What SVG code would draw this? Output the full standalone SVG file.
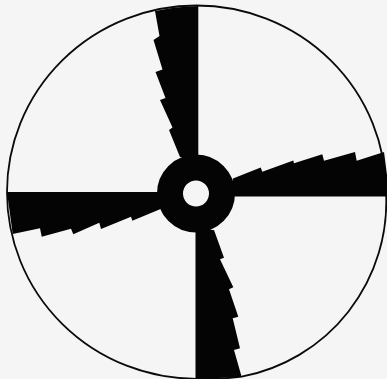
<svg xmlns="http://www.w3.org/2000/svg" width="387" height="379" viewBox="0 0 387 379">
<style>.k{fill:#040404}</style>
<rect width="387" height="379" fill="#f5f5f5"/>
<path d="M386,192 A178,178 0 0 1 241.7,376.7 Q220,379.5 196.5,378.8 A189.5,186.5 0 0 1 7,192 A189.5,186.5 0 0 1 386,192 Z" fill="none" stroke="#0a0a0a" stroke-width="1.8"/>
<polygon class="k" points="155,11 159.5,36 153.5,40 162.5,69.5 155.5,72 165.5,98 160,100 172.5,127.5 169,130 180,157 198.3,157 198.3,6 175,7.5"/>
<polygon class="k" points="233,178.5 260.7,167.5 262.3,171.7 293.3,160.5 294,163.3 322.3,154.3 324,160.7 355,152 356.7,160.7 381.7,152.7 384,152 387,175 387,196.5 233,196.5"/>
<polygon class="k" points="214,230 224,257.7 220,259.3 233.3,287.3 229,289.3 238.3,316.7 232.7,318.3 240,348.3 234,350 241.7,377 196,379 195.5,379 195.5,230"/>
<polygon class="k" points="160,209.3 132.3,220.7 131,216.7 101,229 99.3,222.7 73.3,234.3 71,228.7 41.7,236.7 40,228.3 12.7,234 7,192 160,192"/>
<circle cx="196" cy="193.5" r="26" fill="none" stroke="#040404" stroke-width="26"/>
</svg>
